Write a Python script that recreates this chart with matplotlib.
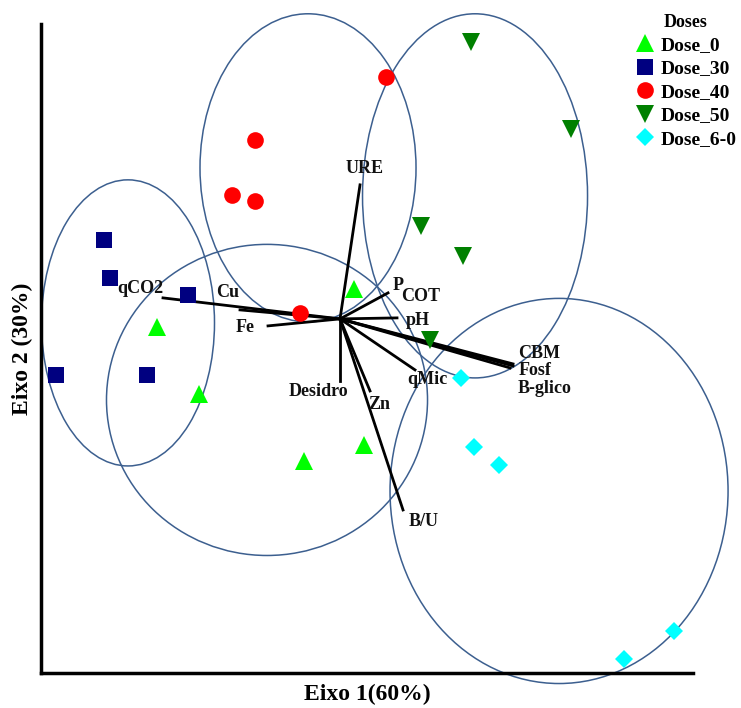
import numpy as np
import matplotlib.pyplot as plt
from matplotlib.patches import Ellipse

plt.rcParams['font.family'] = ['Liberation Serif', 'DejaVu Serif']
plt.rcParams['font.weight'] = 'bold'

# scores (PC1, PC2) per dose group
groups = ['Dose_0', 'Dose_30', 'Dose_40', 'Dose_50', 'Dose_6-0']
dose0_x = [0.14, -1.83, -1.41, -0.36, 0.24]
dose0_y = [0.30, -0.08, -0.75, -1.42, -1.26]
dose30_x = [-2.36, -2.30, -1.52, -2.84, -1.93]
dose30_y = [0.79, 0.41, 0.24, -0.56, -0.56]
dose40_x = [0.46, -0.85, -1.08, -0.85, -0.40]
dose40_y = [2.42, 1.79, 1.24, 1.18, 0.06]
dose50_x = [1.31, 2.31, 0.81, 1.23, 0.90]
dose50_y = [2.77, 1.90, 0.93, 0.63, -0.21]
dose60_x = [1.21, 1.34, 1.59, 3.34, 2.84]
dose60_y = [-0.59, -1.28, -1.46, -3.12, -3.40]

# confidence ellipses: center x, center y, width, height
ell_cx = [-0.73, -2.12, -0.32, 1.35, 2.19]
ell_cy = [-0.81, -0.04, 1.51, 1.23, -1.72]
ell_w = [3.21, 1.73, 2.16, 2.25, 3.38]
ell_h = [3.11, 2.86, 3.08, 3.64, 3.85]

# variable loadings
var_names = ['URE', 'P', 'pH', 'CBM', 'Fosf', 'B-glico', 'qMic', 'Zn', 'B/U',
             'Desidro', 'Fe', 'Cu', 'qCO2']
var_x = [0.20, 0.48, 0.57, 1.73, 1.73, 1.70, 0.75, 0.30, 0.63, 0.00, -0.72, -1.00, -1.77]
var_y = [1.34, 0.26, 0.01, -0.45, -0.47, -0.49, -0.51, -0.72, -1.91, -0.62, -0.07, 0.09, 0.21]
# label offsets (pixels) from arrow tips
lab_dx = [5, 10, 21, 26, 22, 35, 12, 9, 21, -22, -23, -12, -23]
lab_dy = [16, 7, -3, 10, -5, -21, -10, -14, -12, -11, -2, 17, 9]

xs = [dose0_x, dose30_x, dose40_x, dose50_x, dose60_x]
ys = [dose0_y, dose30_y, dose40_y, dose50_y, dose60_y]
colors = ['#00ff00', '#000080', '#ff0000', '#008000', '#00ffff']
markers = ['^', 's', 'o', 'v', 'D']
msizes = [13, 12, 12, 13, 9]

fig = plt.figure(figsize=(7.41, 7.08), dpi=100)
ax = fig.add_axes([0.0553, 0.0494, 0.880, 0.917])

for cx, cy, w, h in zip(ell_cx, ell_cy, ell_w, ell_h):
    ax.add_patch(Ellipse((cx, cy), w, h, fill=False, edgecolor='#3c5f8f', lw=1.1,
                         zorder=1, clip_on=False))

for i in range(len(var_names)):
    ax.plot([0, var_x[i]], [0, var_y[i]], color='black', lw=2, zorder=2)
    ax.annotate(var_names[i], (var_x[i], var_y[i]), xytext=(lab_dx[i], lab_dy[i]),
                textcoords='offset pixels', ha='center', va='center',
                fontsize=13, fontweight='bold', color='#111111', zorder=4)
# subscript part of P label
ax.annotate('COT', (var_x[1], var_y[1]), xytext=(33, -4), textcoords='offset pixels',
            ha='center', va='center', fontsize=13, fontweight='bold', color='#111111')

handles = []
for i, g in enumerate(groups):
    h, = ax.plot(xs[i], ys[i], linestyle='none', marker=markers[i], color=colors[i],
                 markersize=msizes[i], markeredgewidth=0, label=g, zorder=3, clip_on=False)
    handles.append(h)

ax.set_xlim(-2.99, 3.53)
ax.set_ylim(-3.54, 2.95)
ax.set_xticks([])
ax.set_yticks([])
for s in ['top', 'right']:
    ax.spines[s].set_visible(False)
for s in ['left', 'bottom']:
    ax.spines[s].set_linewidth(2.5)

ax.set_xlabel('Eixo 1(60%)', fontsize=17, fontweight='bold', labelpad=8)
ax.set_ylabel('Eixo 2 (30%)', fontsize=17, fontweight='bold', labelpad=6)

leg = fig.legend(handles=handles, loc='upper right', bbox_to_anchor=(1.012, 1.0),
                 frameon=False, title='Doses', fontsize=14, handlelength=1.0,
                 handletextpad=0.3, labelspacing=0.3, borderpad=0.2)
leg.get_title().set_fontweight('bold')
leg.get_title().set_fontsize(13)
for t in leg.get_texts():
    t.set_fontweight('bold')

fig.savefig('out.png', dpi=100)
